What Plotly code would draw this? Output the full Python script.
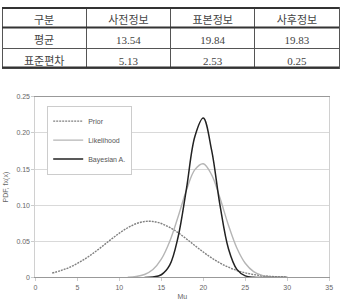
import plotly.graph_objects as go

# ---- table data ----
table_header = ["구분", "사전정보", "표본정보", "사후정보"]
row_labels = ["평균", "표준편차"]
prior_stats = ["13.54", "5.13"]
likelihood_stats = ["19.84", "2.53"]
posterior_stats = ["19.83", "0.25"]

# ---- curve data ----
prior_x = [2, 3, 4, 5, 6, 7, 8, 9, 10, 11, 12, 13, 14, 15, 16, 17, 18, 19, 20, 21, 22, 23, 24, 25, 26, 27, 28, 29, 30]
prior_y = [0.0062, 0.0094, 0.0138, 0.0195, 0.0264, 0.0345, 0.0434, 0.0526, 0.0613, 0.0688, 0.0744, 0.0774,
           0.0775, 0.0747, 0.0693, 0.0620, 0.0533, 0.0442, 0.0352, 0.0270, 0.0200, 0.0142, 0.0097, 0.0064,
           0.0041, 0.0025, 0.0015, 0.0008, 0.0005]

like_x = [11, 12, 13, 14, 15, 16, 17, 18, 19, 20, 21, 22, 23, 24, 25, 26, 27, 28, 29, 30]
like_y = [0.0004, 0.0013, 0.0041, 0.0110, 0.0253, 0.0498, 0.0840, 0.1210, 0.1492, 0.1574, 0.1420, 0.1095,
          0.0723, 0.0408, 0.0197, 0.0081, 0.0029, 0.0009, 0.0002, 0.0001]

bayes_x = [13, 14, 15, 16, 17, 18, 19, 20, 21, 22, 23, 24, 25, 26, 27, 28, 29, 30]
bayes_y = [0.0000, 0.0006, 0.0038, 0.0170, 0.0560, 0.1230, 0.1950, 0.2205, 0.1758, 0.0993, 0.0397, 0.0112,
           0.0023, 0.0003, 0.0000, 0.0000, 0.0000, 0.0000]

x_ticks = [0, 5, 10, 15, 20, 25, 30, 35]
y_ticks = [0, 0.05, 0.10, 0.15, 0.20, 0.25]
y_tick_text = ["0", "0.05", "0.10", "0.15", "0.20", "0.25"]

W, H = 343, 301
serif = "Liberation Serif, Noto Sans CJK KR, serif"
sans = "Liberation Sans, Arial, sans-serif"
tick_col = "#666666"

fig = go.Figure()

fig.add_trace(go.Table(
    domain=dict(x=[0, 1], y=[0.70, 1 - 4 / H]),
    columnwidth=[1, 1, 1, 1],
    header=dict(values=table_header, height=20, align="center",
                fill_color="white", line=dict(color="#555555", width=1),
                font=dict(family=serif, size=11, color="#444444")),
    cells=dict(values=[row_labels, prior_stats, likelihood_stats, posterior_stats],
               height=20.5, align="center",
               fill_color="white", line=dict(color="#555555", width=1),
               font=dict(family=serif, size=11, color="#444444")),
))

fig.add_trace(go.Scatter(x=prior_x, y=prior_y, name="Prior", mode="lines",
                         line=dict(color="#808080", width=1.4, dash="2px,1px", shape="spline")))
fig.add_trace(go.Scatter(x=like_x, y=like_y, name="Likelihood", mode="lines",
                         line=dict(color="#b5b5b5", width=1.4, shape="spline")))
fig.add_trace(go.Scatter(x=bayes_x, y=bayes_y, name="Bayesian A.", mode="lines",
                         line=dict(color="#222222", width=1.5, shape="spline")))

# thick table rules
for yy in [4, 24, 65]:
    fig.add_shape(type="line", xref="paper", yref="paper", x0=0, x1=1,
                  y0=1 - yy / H, y1=1 - yy / H, line=dict(color="#333333", width=2))

fig.update_layout(
    width=W, height=H,
    margin=dict(l=0, r=0, t=0, b=0),
    paper_bgcolor="white", plot_bgcolor="white",
    showlegend=True,
    legend=dict(x=46 / W, y=1 - 104 / H, xanchor="left", yanchor="top",
                bgcolor="white", bordercolor="#cccccc", borderwidth=1,
                font=dict(family=sans, size=7, color="#555555"),
                itemwidth=30, tracegroupgap=0),
    xaxis=dict(domain=[34 / W, 333 / W], range=[0, 35], tickvals=x_ticks,
               showgrid=False, zeroline=False, showline=True, linecolor="#999999",
               mirror=True, ticks="outside", ticklen=3, tickcolor="#cccccc",
               tickfont=dict(family=sans, size=7, color=tick_col),
               title=dict(text="Mu", font=dict(family=sans, size=7, color=tick_col), standoff=4)),
    yaxis=dict(domain=[(H - 280) / H, (H - 95) / H], range=[0, 0.25], tickvals=y_ticks,
               ticktext=y_tick_text, showgrid=True, gridcolor="#d9d9d9", gridwidth=1,
               zeroline=False, showline=True, linecolor="#d0d0d0", mirror=True,
               ticks="outside", ticklen=3, tickcolor="#cccccc",
               tickfont=dict(family=sans, size=7, color=tick_col),
               title=dict(text="PDF, fx(x)", font=dict(family=sans, size=7, color=tick_col), standoff=6)),
)

fig.write_html("out.html")
